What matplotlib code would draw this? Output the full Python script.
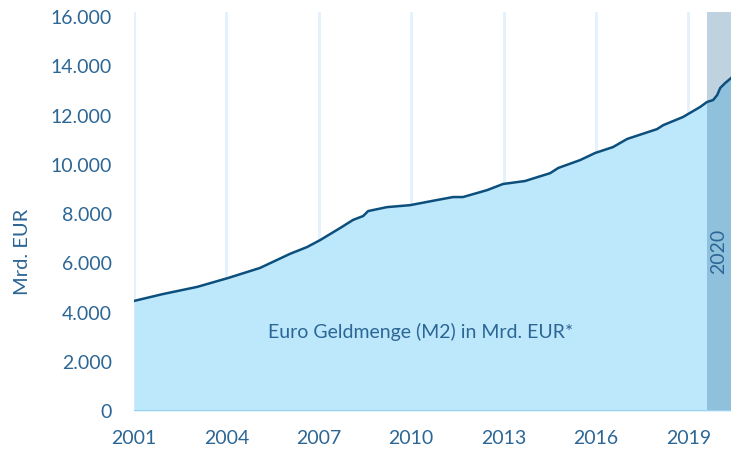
import numpy as np
import matplotlib.pyplot as plt

# Euro Geldmenge M2, Werte in Tsd. Mrd. EUR
jahre = [2001.00, 2001.94, 2003.05, 2004.05, 2005.09, 2006.06, 2006.62, 2007.04,
         2007.69, 2008.11, 2008.44, 2008.60, 2009.21, 2009.96, 2010.84, 2011.36,
         2011.68, 2012.46, 2012.98, 2013.69, 2014.51, 2014.77, 2015.48, 2015.97,
         2016.55, 2017.01, 2017.98, 2018.18, 2018.82, 2019.38, 2019.60, 2019.80,
         2019.93, 2020.03, 2020.19, 2020.38]
m2 = [4.47, 4.75, 5.04, 5.40, 5.81, 6.38, 6.66, 6.94,
      7.43, 7.76, 7.92, 8.12, 8.28, 8.36, 8.57, 8.69,
      8.69, 8.97, 9.22, 9.34, 9.66, 9.87, 10.19, 10.48,
      10.72, 11.05, 11.45, 11.61, 11.94, 12.35, 12.55, 12.63,
      12.83, 13.12, 13.32, 13.52]
m2 = [v * 1000 for v in m2]

ticks_x = [2001, 2004, 2007, 2010, 2013, 2016, 2019]
ticks_y = [0, 2000, 4000, 6000, 8000, 10000, 12000, 14000, 16000]
labels_y = ['0', '2.000', '4.000', '6.000', '8.000', '10.000', '12.000', '14.000', '16.000']
band = [2019.60, 2020.38]   # hervorgehobener Zeitraum 2020

textcol = '#2C6695'
plt.rcParams['font.family'] = ['Lato', 'DejaVu Sans']

fig = plt.figure(figsize=(7.31, 4.5), dpi=100)
ax = fig.add_axes([0.1833, 0.0867, 0.8167, 0.8863])

ax.fill_between(jahre, m2, 0, color='#BDE8FC', lw=0, zorder=2)
ax.plot(jahre, m2, color='#0D4F7C', lw=1.8, zorder=4)
ax.axvspan(band[0], band[1], color='#145A8C', alpha=0.27, lw=0, zorder=3)
ax.axhline(0, color='#9CD2EE', lw=1.5, zorder=5)

for t in ticks_x:
    ax.axvline(t, color='#E2F1FB', lw=2, zorder=1)

ax.set_xlim(2001, 2020.38)
ax.set_ylim(0, 16200)
ax.set_xticks(ticks_x)
ax.set_xticklabels([str(t) for t in ticks_x])
ax.set_yticks(ticks_y)
ax.set_yticklabels(labels_y)
ax.tick_params(length=0, labelsize=14, labelcolor=textcol)
ax.tick_params(axis='y', pad=16)
ax.tick_params(axis='x', pad=14)
for s in ax.spines.values():
    s.set_visible(False)

ax.set_ylabel('Mrd. EUR', fontsize=14.5, color=textcol)
ax.yaxis.set_label_coords(-0.172, 0.40)
ax.text(2010.3, 3200, 'Euro Geldmenge (M2) in Mrd. EUR*', fontsize=14,
        color=textcol, ha='center', va='center', zorder=6)
ax.text(sum(band) / 2, 6500, '2020', fontsize=14, color=textcol,
        rotation=90, ha='center', va='center', zorder=6)

fig.savefig('out.png', dpi=100)
